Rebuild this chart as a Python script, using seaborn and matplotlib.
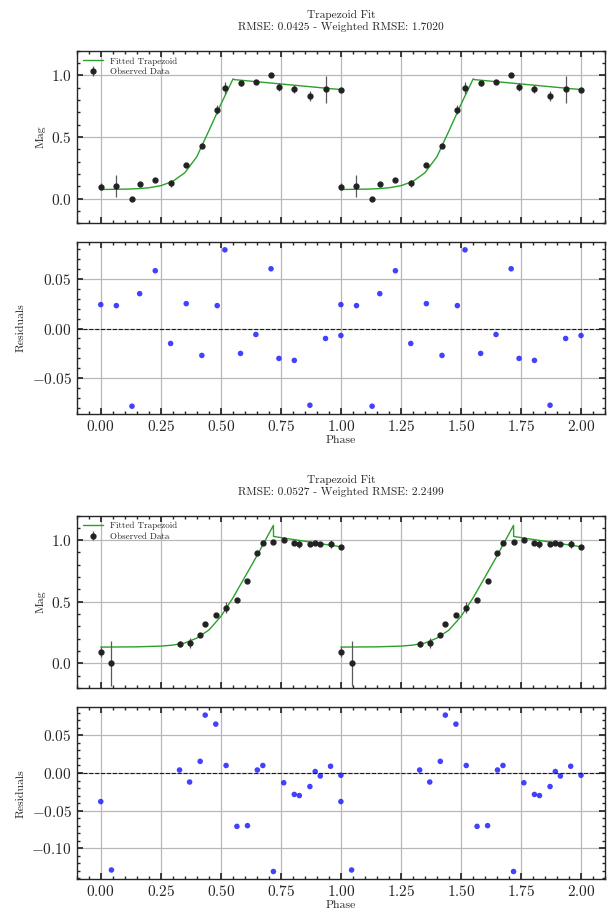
import numpy as np
import pandas as pd
import matplotlib
matplotlib.use("Agg")
import matplotlib.pyplot as plt
from matplotlib.ticker import MultipleLocator
import seaborn as sns

# ---- data (phase 0..1, repeated once for phase 1..2) ----
# fit 1
phase1 = [0.000, 0.065, 0.130, 0.162, 0.227, 0.291, 0.356, 0.421, 0.485, 0.517,
          0.582, 0.646, 0.709, 0.742, 0.806, 0.871, 0.936, 1.000]
mag1 = [0.098, 0.100, 0.000, 0.117, 0.155, 0.125, 0.275, 0.430, 0.723, 0.900,
        0.938, 0.949, 1.000, 0.905, 0.889, 0.831, 0.889, 0.878]
err1 = [0.030, 0.090, 0.005, 0.012, 0.012, 0.030, 0.012, 0.020, 0.040, 0.050,
        0.020, 0.015, 0.008, 0.030, 0.030, 0.040, 0.110, 0.015]
resid1 = [0.024, 0.023, -0.078, 0.035, 0.058, -0.015, 0.025, -0.027, 0.023, 0.079,
          -0.025, -0.006, 0.060, -0.030, -0.032, -0.077, -0.010, -0.007]
fit1_phase = [0.0, 0.10, 0.15, 0.20, 0.25, 0.30, 0.35, 0.40, 0.45, 0.50, 0.551, 0.556, 1.0]
fit1_mag = [0.074, 0.077, 0.080, 0.088, 0.105, 0.140, 0.210, 0.340, 0.550, 0.765, 0.972, 0.966, 0.885]

# fit 2
phase2 = [0.000, 0.0445, 0.328, 0.370, 0.414, 0.435, 0.479, 0.522, 0.567, 0.611,
          0.652, 0.675, 0.719, 0.762, 0.806, 0.827, 0.871, 0.893, 0.914, 0.957, 1.000]
mag2 = [0.090, 0.000, 0.158, 0.167, 0.234, 0.322, 0.390, 0.452, 0.515, 0.667,
        0.896, 0.980, 0.989, 1.002, 0.975, 0.967, 0.970, 0.980, 0.970, 0.970, 0.943]
err2 = [0.040, 0.180, 0.025, 0.040, 0.015, 0.012, 0.012, 0.045, 0.010, 0.010,
        0.015, 0.015, 0.012, 0.020, 0.010, 0.030, 0.010, 0.010, 0.010, 0.030, 0.015]
resid2 = [-0.038, -0.129, 0.004, -0.012, 0.0155, 0.077, 0.065, 0.010, -0.071, -0.070,
          0.004, 0.010, -0.131, -0.013, -0.0285, -0.030, -0.018, 0.002, -0.004, 0.009, -0.003]
fit2_phase = [0.0, 0.15, 0.25, 0.30, 0.35, 0.40, 0.45, 0.50, 0.55, 0.60, 0.65, 0.719, 0.7195, 1.0]
fit2_mag = [0.132, 0.134, 0.140, 0.148, 0.165, 0.205, 0.270, 0.380, 0.530, 0.700, 0.872, 1.120, 1.030, 0.946]

titles = ["Trapezoid Fit\nRMSE: 0.0425 - Weighted RMSE: 1.7020",
          "Trapezoid Fit\nRMSE: 0.0527 - Weighted RMSE: 2.2499"]

sns.set_theme(style="ticks")
plt.rcParams["font.family"] = ["cmr10", "DejaVu Serif"]
plt.rcParams["mathtext.fontset"] = "cm"
plt.rcParams["axes.formatter.use_mathtext"] = True
plt.rcParams["axes.unicode_minus"] = True


def style_axes(ax, ymajor, yminor):
    ax.set_xlim(-0.1, 2.1)
    ax.xaxis.set_major_locator(MultipleLocator(0.25))
    ax.xaxis.set_minor_locator(MultipleLocator(0.05))
    ax.yaxis.set_major_locator(MultipleLocator(ymajor))
    ax.yaxis.set_minor_locator(MultipleLocator(yminor))
    ax.tick_params(which="both", direction="in", top=True, right=True,
                   labelsize=11, color="0.15")
    ax.tick_params(which="major", length=4)
    ax.tick_params(which="minor", length=2)
    ax.grid(True, which="major", color="0.72", linewidth=0.9)
    ax.set_axisbelow(True)
    for s in ax.spines.values():
        s.set_color("0.15")
        s.set_linewidth(1.0)


def draw_fit(ax_top, ax_res, phase, mag, err, resid, fit_phase, fit_mag, title):
    df = pd.DataFrame({"phase": phase, "mag": mag, "err": err, "resid": resid})
    fit = pd.DataFrame({"phase": fit_phase, "mag": fit_mag})

    for k in range(2):
        sns.lineplot(x=fit["phase"] + k, y=fit["mag"], ax=ax_top, color="#2ca02c",
                     linewidth=1.0, sort=False, estimator=None,
                     label="Fitted Trapezoid" if k == 0 else None)
    for k in range(2):
        ax_top.errorbar(df["phase"] + k, df["mag"], yerr=df["err"], fmt="o",
                        color="#222222", ecolor="0.35", elinewidth=0.9,
                        markersize=3.5, label="Observed Data" if k == 0 else None)
    ax_top.set_ylim(-0.2, 1.2)
    style_axes(ax_top, 0.5, 0.1)
    ax_top.set_xticklabels([])
    ax_top.set_xlabel("")
    ax_top.set_ylabel("Mag", fontsize=8.5)
    ax_top.set_title(title, fontsize=8.2, pad=15)
    ax_top.legend(loc="upper left", fontsize=6.5, frameon=False,
                  handlelength=2.2, borderaxespad=0.3, labelspacing=0.25)

    both = pd.concat([df.assign(x=df["phase"]), df.assign(x=df["phase"] + 1)])
    sns.scatterplot(data=both, x="x", y="resid", ax=ax_res, color="#2020ff",
                    alpha=0.85, s=16, edgecolor="none")
    ax_res.axhline(0, color="0.1", linestyle="--", linewidth=0.8)
    style_axes(ax_res, 0.05, 0.01)
    ax_res.set_xlabel("Phase", fontsize=8.5, labelpad=1)
    ax_res.set_ylabel("Residuals", fontsize=8.5)


fig = plt.figure(figsize=(6.09, 9.15), dpi=100)
left, width = 0.126, 0.8675
ax1 = fig.add_axes([left, 0.756, width, 0.1885])
ax2 = fig.add_axes([left, 0.5475, width, 0.188])
ax3 = fig.add_axes([left, 0.2481, width, 0.1885])
ax4 = fig.add_axes([left, 0.039, width, 0.188])

draw_fit(ax1, ax2, phase1, mag1, err1, resid1, fit1_phase, fit1_mag, titles[0])
draw_fit(ax3, ax4, phase2, mag2, err2, resid2, fit2_phase, fit2_mag, titles[1])

fig.savefig("out.png", dpi=100)
